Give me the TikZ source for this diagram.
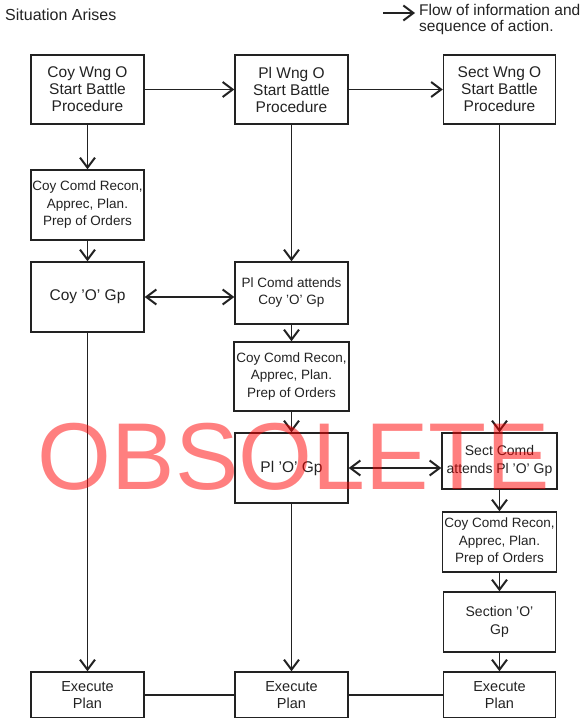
\documentclass[tikz,border=0pt]{standalone}
\usepackage{fontspec}
\setmainfont{Liberation Sans}
\usetikzlibrary{arrows.meta}
\newcommand\fsz[2]{\fontsize{#1}{#2}\selectfont}
\definecolor{ink}{HTML}{222222}
\begin{document}
\begin{tikzpicture}[x=1pt,y=-1pt,
  every node/.style={text=ink},
  box/.style={draw=ink,line width=1.4pt,inner sep=0pt,align=center},
  wide/.style={minimum width=113pt},
  tip/.tip={Straight Barb[length=10pt,width=15pt,line width=2pt]},
  arr/.style={draw=ink,line width=1.4pt,-tip},
  arrtwo/.style={draw=ink,line width=1.4pt,tip-tip},
  link/.style={draw=ink,line width=1.4pt}]
\useasboundingbox (0,0) rectangle (582,718);

% header texts
\node[anchor=base west,inner sep=0pt,font={\fsz{16pt}{18pt}}] (sit) at (5,20) {Situation Arises};
\coordinate (la) at (383,13);
\coordinate (lb) at (415,13);
\draw[arr] (la) -- (lb);
\node[anchor=north west,inner sep=0pt,align=left,font={\fsz{15.5pt}{16pt}}] (leg) at (419,4)
  {Flow of information and\\ sequence of action.};

% column 1
\node[box,wide,minimum height=69pt,font={\fsz{15.5pt}{17pt}}] (cw) at (87.5,89.5)
  {Coy Wng O\\Start Battle\\Procedure};
\node[box,wide,minimum height=70pt,font={\fsz{13.5pt}{17.5pt}}] (r1) at (87.5,205)
  {Coy Comd Recon,\\Apprec, Plan.\\Prep of Orders};
\node[box,wide,minimum height=70pt,font={\fsz{15.5pt}{17pt}}] (co) at (87.5,297)
  {Coy 'O' Gp};
\node[box,wide,minimum height=46pt,font={\fsz{14.5pt}{17pt}}] (e1) at (87.5,695)
  {Execute\\Plan};

% column 2
\node[box,wide,minimum height=69pt,font={\fsz{15.5pt}{17pt}}] (pw) at (291.5,89.5)
  {Pl Wng O\\Start Battle\\Procedure};
\node[box,wide,minimum height=62pt,font={\fsz{13.5pt}{17pt}}] (pc) at (291.5,293)
  {Pl Comd attends\\Coy 'O' Gp};
\node[box,minimum width=115pt,minimum height=69pt,font={\fsz{13.5pt}{17.5pt}}] (r2) at (291.5,376.5)
  {Coy Comd Recon,\\Apprec, Plan.\\Prep of Orders};
\node[box,wide,minimum height=70pt,font={\fsz{15.5pt}{17pt}}] (po) at (291.5,468)
  {Pl 'O' Gp};
\node[box,wide,minimum height=46pt,font={\fsz{14.5pt}{17pt}}] (e2) at (291.5,695)
  {Execute\\Plan};

% column 3
\node[box,minimum width=112pt,minimum height=69pt,font={\fsz{15.5pt}{17pt}}] (sw) at (499.5,89.5)
  {Sect Wng O\\Start Battle\\Procedure};
\node[box,minimum width=115pt,minimum height=56pt,font={\fsz{14pt}{18pt}}] (sc) at (499.5,461)
  {Sect Comd\\attends Pl 'O' Gp};
\node[box,minimum width=114pt,minimum height=60pt,font={\fsz{13.5pt}{17.5pt}}] (r3) at (499.5,542)
  {Coy Comd Recon,\\Apprec, Plan.\\Prep of Orders};
\node[box,minimum width=112pt,minimum height=60pt,font={\fsz{14pt}{18pt}}] (so) at (499.5,622)
  {Section 'O'\\Gp};
\node[box,minimum width=112pt,minimum height=46pt,font={\fsz{14.5pt}{17pt}}] (e3) at (499.5,695)
  {Execute\\Plan};

% connectors
\draw[arr] (cw) -- (pw);
\draw[arr] (pw) -- (sw);
\draw[arr] (cw) -- (r1);
\draw[arr] (r1) -- (co);
\draw[arr] (co) -- (e1);
\draw[arr] (pw) -- (pc);
\draw[arrtwo] (co.east) -- (co.east -| pc.west);
\draw[arr] (pc) -- (r2);
\draw[arr] (r2) -- (po);
\draw[arr] (po) -- (e2);
\draw[arr] (sw) -- (sc);
\draw[arrtwo] (po.east) -- (po.east -| sc.west);
\draw[arr] (sc) -- (r3);
\draw[arr] (r3) -- (so);
\draw[arr] (so) -- (e3);
\draw[link] (e1) -- (e2) -- (e3);

% watermark
\node[anchor=base,inner sep=0pt,text=red,text opacity=0.5,font={\fsz{95pt}{95pt}}] (stamp) at (294,489)
  {OBSOLETE};
\end{tikzpicture}
\end{document}
